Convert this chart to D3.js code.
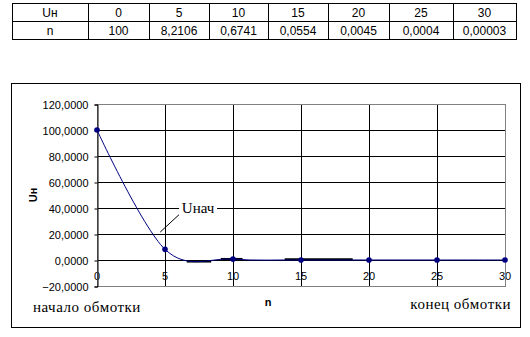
<!DOCTYPE html>
<html>
<head>
<meta charset="utf-8">
<script src="https://cdn.jsdelivr.net/npm/d3@7"></script>
<style>
  body { margin: 0; background: #fff; }
  svg { display: block; }
</style>
</head>
<body>
<div id="chart"></div>
<script>
// data
const windingPos = [0, 5, 10, 15, 20, 25, 30];
const voltage = [100, 8.2106, 0.6741, 0.0554, 0.0045, 0.0004, 0.00003];
const yTicks = [-20, 0, 20, 40, 60, 80, 100, 120];
const xTicks = [0, 5, 10, 15, 20, 25, 30];
// short dark strokes lying on the zero line
const stubX0 = [6.6, 9.1, 13.8];
const stubX1 = [8.4, 10.7, 18.8];
const stubY = [-1.2, 0.8, 0.5];

const W = 530, H = 337;
const sans = "Arial, 'Liberation Sans', sans-serif";
const serif = "'Times New Roman', 'Liberation Serif', serif";
const navy = "#000080";

const svg = d3.select("#chart").append("svg")
    .attr("width", W)
    .attr("height", H);

// ---- table on top
const colEdges = [12, 88, 149, 209, 268, 328, 389, 453, 516];
const rowEdges = [3, 21, 39];
const rows = [
    ["Uн"].concat(windingPos.map(String)),
    ["n"].concat(voltage.map(v => String(v).replace(".", ",")))
];

const table = svg.append("g").attr("class", "table");
rows.forEach((row, r) => {
    row.forEach((txt, c) => {
        table.append("rect")
            .attr("x", colEdges[c] + 0.5)
            .attr("y", rowEdges[r] + 0.5)
            .attr("width", colEdges[c + 1] - colEdges[c])
            .attr("height", rowEdges[r + 1] - rowEdges[r])
            .attr("fill", "none")
            .attr("stroke", "#000");
        table.append("text")
            .attr("x", (colEdges[c] + colEdges[c + 1]) / 2)
            .attr("y", rowEdges[r] + 14)
            .attr("text-anchor", "middle")
            .style("font-family", sans)
            .style("font-size", "12px")
            .text(txt);
    });
});

// ---- chart frame
svg.append("rect")
    .attr("x", 11.5).attr("y", 83.5)
    .attr("width", 509).attr("height", 244)
    .attr("fill", "none")
    .attr("stroke", "#000");

const plot = { left: 97, right: 505, top: 104, bottom: 286 };

const x = d3.scaleLinear().domain([0, 30]).range([plot.left, plot.right]);
const y = d3.scaleLinear().domain([-20, 120]).range([plot.bottom, plot.top]);

const ruLocale = d3.formatLocale({ decimal: ",", thousands: " ", grouping: [3], currency: ["", ""] });
const fmt = ruLocale.format(".4f");

// x tick labels (gridlines are drawn over them, as in the picture)
svg.append("g")
    .selectAll("text")
    .data(xTicks)
    .join("text")
    .attr("x", d => x(d))
    .attr("y", y(0) + 20)
    .attr("text-anchor", "middle")
    .style("font-family", sans)
    .style("font-size", "11px")
    .text(d => d);

// horizontal gridlines
svg.append("g")
    .selectAll("line")
    .data(yTicks.filter(d => d > -20 && d < 120))
    .join("line")
    .attr("x1", plot.left).attr("x2", plot.right)
    .attr("y1", d => Math.round(y(d)) + 0.5)
    .attr("y2", d => Math.round(y(d)) + 0.5)
    .attr("stroke", "#000");

// vertical gridlines
svg.append("g")
    .selectAll("line")
    .data(xTicks.filter(d => d > 0 && d < 30))
    .join("line")
    .attr("x1", d => Math.round(x(d)) + 0.5)
    .attr("x2", d => Math.round(x(d)) + 0.5)
    .attr("y1", plot.top).attr("y2", plot.bottom)
    .attr("stroke", "#000");

// plot area border (grey)
svg.append("rect")
    .attr("x", plot.left + 0.5).attr("y", plot.top + 0.5)
    .attr("width", plot.right - plot.left)
    .attr("height", plot.bottom - plot.top)
    .attr("fill", "none")
    .attr("stroke", "#808080");

// y axis
const yAxis = svg.append("g")
    .attr("transform", `translate(${plot.left + 0.5},0.5)`)
    .call(d3.axisLeft(y).tickValues(yTicks).tickFormat(fmt).tickSize(3).tickPadding(6));
yAxis.select(".domain").attr("stroke", "#000");
yAxis.selectAll("text")
    .style("font-family", sans)
    .style("font-size", "11px")
    .attr("fill", "#000");

// axis titles
svg.append("text")
    .attr("transform", `translate(37,${(plot.top + plot.bottom) / 2}) rotate(-90)`)
    .attr("text-anchor", "middle")
    .style("font-family", sans)
    .style("font-size", "11px")
    .style("font-weight", "bold")
    .text("Uн");

svg.append("text")
    .attr("x", 268).attr("y", 306)
    .attr("text-anchor", "middle")
    .style("font-family", sans)
    .style("font-size", "11px")
    .style("font-weight", "bold")
    .text("n");

svg.append("text")
    .attr("x", 33).attr("y", 312)
    .style("font-family", serif)
    .style("font-size", "15px")
    .style("letter-spacing", "0.5px")
    .text("начало обмотки");

svg.append("text")
    .attr("x", 511).attr("y", 309)
    .attr("text-anchor", "end")
    .style("font-family", serif)
    .style("font-size", "15px")
    .style("letter-spacing", "0.5px")
    .text("конец обмотки");

// dark strokes near zero
svg.append("g")
    .selectAll("line")
    .data(stubY)
    .join("line")
    .attr("x1", (d, i) => x(stubX0[i]))
    .attr("x2", (d, i) => x(stubX1[i]))
    .attr("y1", d => y(d))
    .attr("y2", d => y(d))
    .attr("stroke", "#000")
    .attr("stroke-width", 2);

// series
const pts = windingPos.map((p, i) => [p, voltage[i]]);
const line = d3.line()
    .x(d => x(d[0]))
    .y(d => y(d[1]))
    .curve(d3.curveCardinal.tension(0));

svg.append("path")
    .datum(pts)
    .attr("d", line)
    .attr("fill", "none")
    .attr("stroke", navy)
    .attr("stroke-width", 1);

svg.append("g")
    .selectAll("circle")
    .data(pts)
    .join("circle")
    .attr("cx", d => x(d[0]))
    .attr("cy", d => y(d[1]))
    .attr("r", 2.8)
    .attr("fill", navy);

// annotation "Uнач"
const noteX = 7.43, noteY = 40;
svg.append("line")
    .attr("x1", x(6.15)).attr("y1", y(36))
    .attr("x2", x(4.65)).attr("y2", y(21.5))
    .attr("stroke", "#000");
svg.append("rect")
    .attr("x", x(noteX) - 19).attr("y", y(noteY) - 7)
    .attr("width", 38).attr("height", 14)
    .attr("fill", "#fff");
svg.append("text")
    .attr("x", x(noteX)).attr("y", y(noteY) + 5)
    .attr("text-anchor", "middle")
    .style("font-family", serif)
    .style("font-size", "15px")
    .text("Uнач");
</script>
</body>
</html>
